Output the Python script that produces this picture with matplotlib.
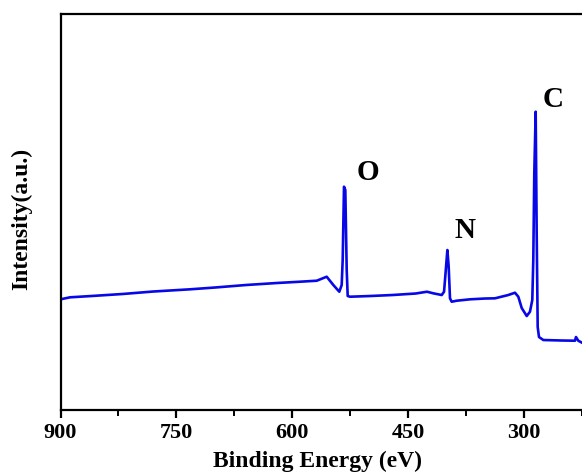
import numpy as np
import matplotlib
matplotlib.use("Agg")
import matplotlib.pyplot as plt

# XPS survey spectrum
energy = [900, 887.7, 860, 820, 780, 732.3, 700, 660, 620, 589.8, 568.1, 555.2,
          551.8, 546.6, 538.9, 535.8, 534.5, 532.8, 531.1, 529.3, 528, 525, 499,
          470, 440, 425.3, 417.1, 406.2, 403.2, 400.6, 398.9, 397.2, 395.5, 393.3,
          386.8, 369.6, 350, 337.2, 320, 311.3, 307, 302.6, 296.1, 291.9, 288.9,
          287.6, 286.3, 284.5, 283.2, 281.9, 280.2, 274.6, 250, 233.6, 232.3,
          229.3, 224.5]
intensity = [110.7, 112.7, 114, 116, 118.5, 120.7, 122.5, 125, 127, 128.3, 129.3, 133.3,
             130, 125, 118.3, 125, 150, 223.3, 220, 140, 114, 113.3, 114,
             115, 116.5, 118.3, 116.7, 115, 118.3, 143.3, 160, 143.3, 111.7, 108.3,
             109.3, 110.7, 111.5, 111.7, 115, 117.3, 113.3, 102, 94, 98.3, 110,
             150, 237, 298.3, 177, 83, 73, 70, 69.5, 69.3, 73,
             69.3, 67.3]

peak_names = ["O", "N", "C"]
peak_x = [502, 376, 262]
peak_y = [238, 180, 311]

plt.rcParams['font.family'] = ['Liberation Serif', 'DejaVu Serif']
plt.rcParams['font.weight'] = 'bold'

fig = plt.figure(figsize=(5.82, 4.75), dpi=100)
ax = fig.add_axes([0.104, 0.1368, 0.9285, 0.8337])

ax.plot(energy, intensity, color='#0808e6', linewidth=1.9)

for name, x, y in zip(peak_names, peak_x, peak_y):
    ax.text(x, y, name, fontsize=21, fontweight='bold', ha='center', va='center')

ax.set_xlim(900, 200)
ax.set_ylim(0, 396)
ax.set_xticks([900, 750, 600, 450, 300])
ax.set_xticks([825, 675, 525, 375, 225], minor=True)
ax.set_yticks([])

for s in ax.spines.values():
    s.set_linewidth(1.6)

ax.tick_params(axis='x', which='major', direction='out', length=6, width=1.6,
               labelsize=16, pad=3)
ax.tick_params(axis='x', which='minor', direction='out', length=4, width=1.4)

ax.set_xlabel('Binding Energy (eV)', fontsize=17, fontweight='bold')
ax.xaxis.set_label_coords(0.476, -0.104)
ax.set_ylabel('Intensity(a.u.)', fontsize=17, fontweight='bold')
ax.yaxis.set_label_coords(-0.053, 0.482)

fig.savefig('out.png', dpi=100)
